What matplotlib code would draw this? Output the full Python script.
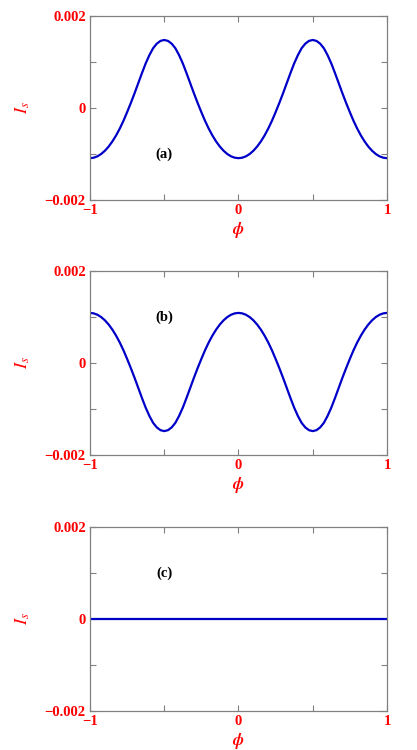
import matplotlib
matplotlib.use("Agg")
import matplotlib.pyplot as plt
from matplotlib.ticker import FixedLocator, FixedFormatter

plt.rcParams['mathtext.fontset'] = 'stix'
plt.rcParams['font.family'] = ['Liberation Serif', 'DejaVu Serif']

phi = [-1.0, -0.975, -0.95, -0.925, -0.9, -0.875, -0.85, -0.825, -0.8, -0.775,
       -0.75, -0.725, -0.7, -0.675, -0.65, -0.625, -0.6, -0.575, -0.55, -0.525,
       -0.5, -0.475, -0.45, -0.425, -0.4, -0.375, -0.35, -0.325, -0.3, -0.275,
       -0.25, -0.225, -0.2, -0.175, -0.15, -0.125, -0.1, -0.075, -0.05, -0.025,
       0.0, 0.025, 0.05, 0.075, 0.1, 0.125, 0.15, 0.175, 0.2, 0.225,
       0.25, 0.275, 0.3, 0.325, 0.35, 0.375, 0.4, 0.425, 0.45, 0.475,
       0.5, 0.525, 0.55, 0.575, 0.6, 0.625, 0.65, 0.675, 0.7, 0.725,
       0.75, 0.775, 0.8, 0.825, 0.85, 0.875, 0.9, 0.925, 0.95, 0.975, 1.0]

Is_a = [-0.00109, -0.00108, -0.00105, -0.00100, -0.00093, -0.00084, -0.00073, -0.00060, -0.00045, -0.00028,
        -0.00009, 0.00011, 0.00032, 0.00054, 0.00076, 0.00097, 0.00115, 0.00130, 0.00140, 0.00146,
        0.00148, 0.00146, 0.00140, 0.00130, 0.00115, 0.00097, 0.00076, 0.00054, 0.00032, 0.00011,
        -0.00009, -0.00028, -0.00045, -0.00060, -0.00073, -0.00084, -0.00093, -0.00100, -0.00105, -0.00108,
        -0.00109, -0.00108, -0.00105, -0.00100, -0.00093, -0.00084, -0.00073, -0.00060, -0.00045, -0.00028,
        -0.00009, 0.00011, 0.00032, 0.00054, 0.00076, 0.00097, 0.00115, 0.00130, 0.00140, 0.00146,
        0.00148, 0.00146, 0.00140, 0.00130, 0.00115, 0.00097, 0.00076, 0.00054, 0.00032, 0.00011,
        -0.00009, -0.00028, -0.00045, -0.00060, -0.00073, -0.00084, -0.00093, -0.00100, -0.00105, -0.00108,
        -0.00109]

Is_b = [0.00109, 0.00108, 0.00105, 0.00100, 0.00093, 0.00084, 0.00073, 0.00060, 0.00045, 0.00028,
        0.00009, -0.00011, -0.00032, -0.00054, -0.00076, -0.00097, -0.00115, -0.00130, -0.00140, -0.00146,
        -0.00148, -0.00146, -0.00140, -0.00130, -0.00115, -0.00097, -0.00076, -0.00054, -0.00032, -0.00011,
        0.00009, 0.00028, 0.00045, 0.00060, 0.00073, 0.00084, 0.00093, 0.00100, 0.00105, 0.00108,
        0.00109, 0.00108, 0.00105, 0.00100, 0.00093, 0.00084, 0.00073, 0.00060, 0.00045, 0.00028,
        0.00009, -0.00011, -0.00032, -0.00054, -0.00076, -0.00097, -0.00115, -0.00130, -0.00140, -0.00146,
        -0.00148, -0.00146, -0.00140, -0.00130, -0.00115, -0.00097, -0.00076, -0.00054, -0.00032, -0.00011,
        0.00009, 0.00028, 0.00045, 0.00060, 0.00073, 0.00084, 0.00093, 0.00100, 0.00105, 0.00108,
        0.00109]

phi_c = [-1.0, 1.0]
Is_c = [0.0, 0.0]

panel_labels = ['(a)', '(b)', '(c)']
label_pos = [(-0.5, -0.001), (-0.5, 0.001), (-0.5, 0.001)]

xticks = [-1, -0.5, 0, 0.5, 1]
xticklabels = ['\u22121', '', '0', '', '1']
yticks = [-0.002, -0.001, 0, 0.001, 0.002]
yticklabels = ['\u22120.002', '', '0', '', '0.002']

fig = plt.figure(figsize=(4.17, 7.5), dpi=100)
left, width, height = 0.2158, 0.7122, 0.2453
bottoms = [0.7333, 0.3933, 0.0520]
series = [(phi, Is_a), (phi, Is_b), (phi_c, Is_c)]

grey = '#808080'
red = '#ff0000'
for i, (b, (xs, ys)) in enumerate(zip(bottoms, series)):
    ax = fig.add_axes([left, b, width, height])
    ax.plot(xs, ys, color='#0000c8', lw=1.6, solid_joinstyle='round')
    ax.set_xlim(-1, 1)
    ax.set_ylim(-0.002, 0.002)
    ax.xaxis.set_major_locator(FixedLocator(xticks))
    ax.xaxis.set_major_formatter(FixedFormatter(xticklabels))
    ax.yaxis.set_major_locator(FixedLocator(yticks))
    ax.yaxis.set_major_formatter(FixedFormatter(yticklabels))
    ax.tick_params(direction='in', top=True, right=True, length=4, width=0.8,
                   color=grey, labelcolor=red, labelsize=10.5, pad=3)
    for lab in ax.get_xticklabels() + ax.get_yticklabels():
        lab.set_fontweight('bold')
    for sp in ax.spines.values():
        sp.set_color(grey)
        sp.set_linewidth(0.9)
    ax.set_xlabel(r'$\boldsymbol{\phi}$', color=red, fontsize=12)
    ax.xaxis.set_label_coords(0.5, -0.11)
    ax.set_ylabel(r'$\boldsymbol{I_s}$', color=red, fontsize=13, rotation=90)
    ax.yaxis.set_label_coords(-0.195, 0.5)
    ax.text(label_pos[i][0], label_pos[i][1], panel_labels[i], ha='center', va='center',
            fontsize=10.5, fontweight='bold', color='black')

fig.savefig('out.png', dpi=100)
